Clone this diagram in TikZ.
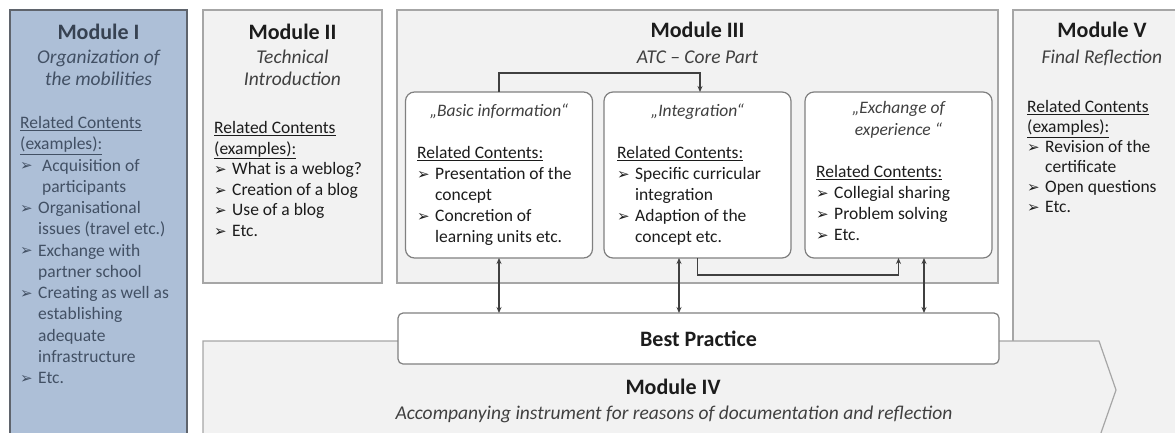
\documentclass[tikz,border=0pt]{standalone}
\usepackage{fontspec}
\setmainfont{Carlito}
\newfontfamily\dvfont{DejaVu Sans}
\usetikzlibrary{arrows.meta}
\definecolor{mIfill}{RGB}{173,191,215}
\definecolor{mIborder}{RGB}{95,100,108}
\definecolor{mItitle}{RGB}{55,66,82}
\definecolor{mItext}{RGB}{66,80,100}
\definecolor{modfill}{RGB}{242,242,242}
\definecolor{modborder}{RGB}{166,166,166}
\definecolor{boxborder}{RGB}{128,128,128}
\definecolor{txt}{RGB}{28,28,28}
\definecolor{subtxt}{RGB}{64,64,64}
\definecolor{conncol}{RGB}{64,64,64}
\newcommand\bul{\makebox[18pt][l]{\raisebox{0.3pt}{\dvfont\fontsize{15}{15}\selectfont\symbol{"27A2}}}}
\newcommand\ind{\hspace*{18pt}}
\newcommand\rc[1]{\underline{#1}}
\tikzset{
  modbox/.style={draw=modborder, fill=modfill, line width=1.2pt},
  innerbox/.style={draw=boxborder, fill=white, line width=1.2pt, rounded corners=9pt,
     minimum width=187pt, minimum height=166pt, inner sep=0pt, outer sep=0pt},
  bpbox/.style={draw=boxborder, fill=white, line width=1.2pt, rounded corners=5pt,
     minimum width=601pt, minimum height=51pt, inner sep=0pt, outer sep=0pt,
     font=\fontsize{22}{26}\selectfont\bfseries, text=txt},
  titlet/.style={font=\fontsize{22}{26}\selectfont\bfseries, text=txt, inner sep=0pt},
  subt/.style={font=\fontsize{19.5}{22}\selectfont\itshape, text=subtxt, align=center, inner sep=0pt, anchor=base},
  boxtitle/.style={font=\fontsize{17.5}{22}\selectfont\itshape, text=subtxt, align=center, inner sep=0pt, anchor=base},
  body/.style={font=\fontsize{17.5}{21}\selectfont, text=txt, align=left, inner sep=0pt, anchor=base west},
  conn/.style={draw=conncol, line width=1.2pt},
  tip/.style={-{Stealth[length=6pt,width=5pt]}},
  dtip/.style={{Stealth[length=6pt,width=5pt]}-{Stealth[length=6pt,width=5pt]}}
}
\begin{document}
\begin{tikzpicture}[x=1pt,y=-1pt]
\useasboundingbox (0,0) rectangle (1175,432);
\clip (0,0) rectangle (1175,432);
\fill[white] (0,0) rectangle (1175,432);
% Module I
\draw[draw=mIborder, fill=mIfill, line width=2pt] (10,10) rectangle (187,450);
% Module II
\draw[modbox] (203,10) rectangle (382,283);
% Module III
\draw[modbox] (397,10) rectangle (998,283);
% Module V
\draw[modbox] (1013,10) rectangle (1200,450);
% Module IV arrow
\draw[modbox] (203,450) -- (203,341) -- (1099,341) -- (1116,390) -- (1095,450);
% inner boxes
\node[innerbox] (b1) at (499,175) {};
\node[innerbox] (b2) at (697.5,175) {};
\node[innerbox] (b3) at (898.5,175) {};
\node[bpbox] (bp) at (698.5,338.5) {Best Practice};
% connectors
\draw[conn,tip] (b1.north) -- ++(0,-19) -| ([xshift=2.5pt]b2.north);
\draw[conn,tip] (b2.south) -- ++(0,17) -| (b3.south);
\draw[conn,dtip] (b1.south) -- (b1.south |- bp.north);
\draw[conn,dtip] ([xshift=-18.5pt]b2.south) -- ([xshift=-18.5pt]b2.south |- bp.north);
\draw[conn,dtip] ([xshift=25.5pt]b3.south) -- ([xshift=25.5pt]b3.south |- bp.north);
% Module I text (base anchor = baseline of last line)
\node[titlet, text=mItitle] (t1) at (98.5,32) {Module I};
\node[subt, text=mItext] (s1) at (98.5,85) {Organization of\\the mobilities};
\node[body, text=mItext, font=\fontsize{17.5}{21.25}\selectfont] (c1) at (20,383.5)
 {\rc{Related Contents}\\\rc{(examples):}\\\bul\ Acquisition of\\\ind\ participants\\\bul Organisational\\\ind issues (travel etc.)\\\bul Exchange with\\\ind partner school\\\bul Creating as well as\\\ind establishing\\\ind adequate\\\ind infrastructure\\\bul Etc.};
% Module II text
\node[titlet] (t2) at (292.5,32) {Module II};
\node[subt] (s2) at (292.5,85) {Technical\\Introduction};
\node[body, font=\fontsize{17.5}{20.6}\selectfont] (c2) at (214,236.5)
 {\rc{Related Contents}\\\rc{(examples):}\\\bul What is a weblog?\\\bul Creation of a blog\\\bul Use of a blog\\\bul Etc.};
% Module III text
\node[titlet] (t3) at (697.5,30) {Module III};
\node[subt] (s3) at (697.5,63) {ATC -- Core Part};
\node[boxtitle] (bt1) at (499,116.5) {„Basic information“};
\node[body] (bc1) at (417,242.5)
 {\rc{Related Contents:}\\\bul Presentation of the\\\ind concept\\\bul Concretion of\\\ind learning units etc.};
\node[boxtitle] (bt2) at (697.5,116.5) {„Integration“};
\node[body] (bc2) at (617,242.5)
 {\rc{Related Contents:}\\\bul Specific curricular\\\ind integration\\\bul Adaption of the\\\ind concept etc.};
\node[boxtitle] (bt3) at (898.5,135.5) {„Exchange of\\experience “};
\node[body] (bc3) at (816,240.5)
 {\rc{Related Contents:}\\\bul Collegial sharing\\\bul Problem solving\\\bul Etc.};
% Module V text
\node[titlet] (t5) at (1102,30) {Module V};
\node[subt] (s5) at (1102,63) {Final Reflection};
\node[body, font=\fontsize{17.5}{20}\selectfont] (c5) at (1027,212.5)
 {\rc{Related Contents}\\\rc{(examples):}\\\bul Revision of the\\\ind certificate\\\bul Open questions\\\bul Etc.};
% Module IV text
\node[titlet] (t4) at (673,387) {Module IV};
\node[subt] (s4) at (674,419) {Accompanying instrument for reasons of documentation and reflection};
\end{tikzpicture}
\end{document}
